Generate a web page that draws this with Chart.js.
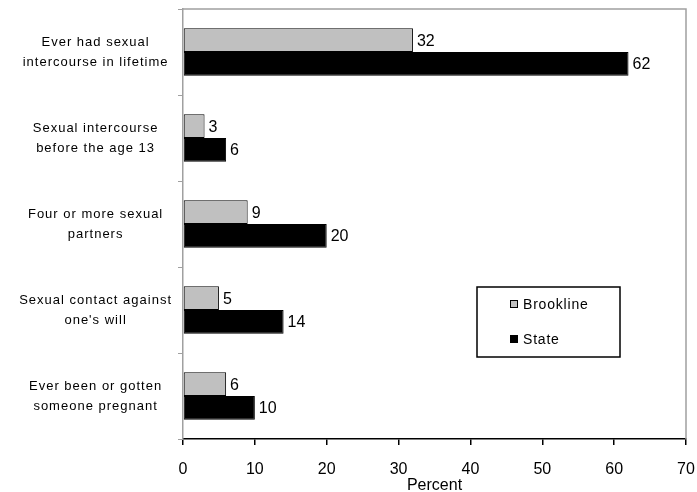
<!DOCTYPE html>
<html>
<head>
<meta charset="utf-8">
<script src="https://cdn.jsdelivr.net/npm/chart.js@4.4.1/dist/chart.umd.min.js"></script>
<style>
  html, body { margin: 0; padding: 0; background: #ffffff; }
  #wrap { width: 697px; height: 492px; position: relative; }
</style>
</head>
<body>
<div id="wrap"><canvas id="c" width="697" height="492"></canvas></div>
<script>
// Behaviour categories (two-line labels)
const categories = [
  ["Ever had sexual", "intercourse in lifetime"],
  ["Sexual intercourse", "before the age 13"],
  ["Four or more sexual", "partners"],
  ["Sexual contact against", "one's will"],
  ["Ever been or gotten", "someone pregnant"]
];
// Percent of students
const brookline = [32, 3, 9, 5, 6];
const state = [62, 6, 20, 14, 10];
const seriesNames = ["Brookline", "State"];
const xTicks = [0, 10, 20, 30, 40, 50, 60, 70];

const FONT = "'Liberation Sans', Arial, sans-serif";

// Slightly loose letter spacing for the category labels
const spacedLabels = {
  id: 'spacedLabels',
  beforeDraw(chart) {
    const s = chart.scales.y;
    if (s && !s._spaced) {
      const orig = s.drawLabels;
      s.drawLabels = function (area) {
        const ctx = this.ctx;
        const prev = ctx.letterSpacing;
        ctx.letterSpacing = '1px';
        orig.call(this, area);
        ctx.letterSpacing = prev || '0px';
      };
      s._spaced = true;
    }
  }
};

// Value labels at the end of each bar
const valueLabels = {
  id: 'valueLabels',
  afterDatasetsDraw(chart) {
    const ctx = chart.ctx;
    ctx.save();
    ctx.font = "16px " + FONT;
    ctx.fillStyle = '#000';
    ctx.textAlign = 'left';
    ctx.textBaseline = 'middle';
    chart.data.datasets.forEach((ds, di) => {
      chart.getDatasetMeta(di).data.forEach((bar, i) => {
        ctx.fillText(String(ds.data[i]), bar.x + 4, bar.y + 1);
      });
    });
    ctx.restore();
  }
};

// Gray frame on the top and right of the plot area
const frame = {
  id: 'frame',
  beforeDatasetsDraw(chart) {
    const {ctx, chartArea: a} = chart;
    ctx.save();
    ctx.strokeStyle = '#a0a0a0';
    ctx.lineWidth = 1.5;
    ctx.beginPath();
    ctx.moveTo(a.left, a.top);
    ctx.lineTo(a.right, a.top);
    ctx.lineTo(a.right, a.bottom);
    ctx.stroke();
    ctx.restore();
  }
};

// Boxed legend inside the plot area
const boxLegend = {
  id: 'boxLegend',
  afterDraw(chart) {
    const ctx = chart.ctx;
    const x0 = 477, y0 = 287, w = 143, h = 70;
    ctx.save();
    ctx.fillStyle = '#fff';
    ctx.fillRect(x0, y0, w, h);
    ctx.strokeStyle = '#000';
    ctx.lineWidth = 1.5;
    ctx.strokeRect(x0, y0, w, h);
    ctx.font = "14px " + FONT;
    ctx.letterSpacing = '0.8px';
    ctx.textBaseline = 'middle';
    ctx.textAlign = 'left';
    const rows = [304, 339];
    chart.data.datasets.forEach((ds, i) => {
      const y = rows[i];
      ctx.fillStyle = ds.backgroundColor;
      ctx.fillRect(510, y - 3.5, 7, 7);
      ctx.strokeStyle = '#000';
      ctx.lineWidth = 1;
      ctx.strokeRect(510.5, y - 3.5, 7, 7);
      ctx.fillStyle = '#000';
      ctx.fillText(ds.label, 523, y + 1);
    });
    ctx.letterSpacing = '0px';
    ctx.restore();
  }
};

function noEdgePadding(scale) {
  scale.paddingTop = 0;
  scale.paddingBottom = 0;
  scale.paddingLeft = 0;
  scale.paddingRight = 0;
}

new Chart(document.getElementById('c'), {
  type: 'bar',
  data: {
    labels: categories,
    datasets: [
      { label: seriesNames[0], data: brookline, backgroundColor: '#c0c0c0',
        borderColor: '#000', borderWidth: 1, borderSkipped: false },
      { label: seriesNames[1], data: state, backgroundColor: '#000000',
        borderColor: '#000', borderWidth: 1, borderSkipped: false }
    ]
  },
  options: {
    indexAxis: 'y',
    responsive: false,
    animation: false,
    devicePixelRatio: 1,
    layout: { autoPadding: false, padding: { top: 9, right: 11, left: 0, bottom: 0 } },
    datasets: { bar: { categoryPercentage: 0.55, barPercentage: 1 } },
    plugins: { legend: { display: false }, tooltip: { enabled: false } },
    scales: {
      x: {
        min: 0, max: 70,
        afterBuildTicks(scale) { scale.ticks = xTicks.map(v => ({ value: v })); },
        afterFit(scale) { scale.height = 53; noEdgePadding(scale); },
        border: { color: '#000', width: 1.5 },
        grid: { drawOnChartArea: false, drawTicks: true, tickLength: 6, color: '#000', lineWidth: 1.5 },
        ticks: { color: '#000', padding: 15, font: { family: FONT, size: 16 }, maxRotation: 0 },
        title: { display: true, text: 'Percent', color: '#000',
                 font: { family: FONT, size: 16, lineHeight: 1 }, padding: { top: 0, bottom: -2 } }
      },
      y: {
        afterFit(scale) { scale.width = 183; noEdgePadding(scale); },
        border: { color: '#a0a0a0', width: 1.5 },
        grid: { drawOnChartArea: false, drawTicks: true, tickLength: 5, color: '#a0a0a0', lineWidth: 1, offset: true },
        ticks: { color: '#000', padding: 17, crossAlign: 'center', autoSkip: false,
                 font: { family: FONT, size: 13, lineHeight: 1.55 } }
      }
    }
  },
  plugins: [spacedLabels, frame, valueLabels, boxLegend]
});
</script>
</body>
</html>
